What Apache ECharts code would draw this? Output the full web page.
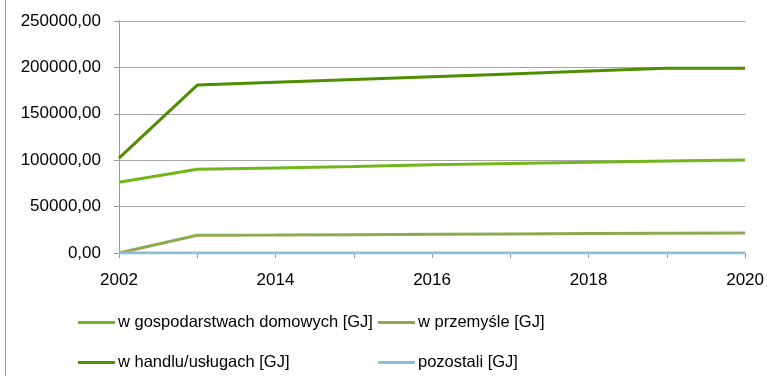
<!DOCTYPE html>
<html>
<head>
<meta charset="utf-8">
<script src="https://cdn.jsdelivr.net/npm/echarts@6/dist/echarts.min.js"></script>
<style>
  html, body { margin: 0; padding: 0; background: #fff; }
  #chart { width: 767px; height: 376px; }
</style>
</head>
<body>
<div id="chart"></div>
<script>
// Years on the horizontal axis
const years = ['2002', '2013', '2014', '2015', '2016', '2017', '2018', '2019', '2020'];

// Heat consumption per sector [GJ]
const households = [76200, 90200, 91700, 93300, 95000, 96500, 97800, 99200, 100200];
const industry   = [0, 19100, 19400, 19800, 20200, 20600, 21000, 21400, 21600];
const trade      = [102300, 181000, 184000, 187000, 190000, 193000, 196000, 199000, 199000];
const others     = [0, 0, 0, 0, 0, 0, 0, 0, 0];

const names = [
  'w gospodarstwach domowych [GJ]',
  'w przemyśle [GJ]',
  'w handlu/usługach [GJ]',
  'pozostali [GJ]'
];
const colors = ['#72B51C', '#8CAA50', '#4E8F00', '#8EBFD6'];

const font = 'Liberation Sans, Arial, sans-serif';

function fmt(v) {
  return v.toFixed(2).replace('.', ',');
}

function line(name, data, color) {
  return {
    name: name,
    type: 'line',
    data: data,
    symbol: 'none',
    lineStyle: { width: 3, color: color },
    itemStyle: { color: color },
    animation: false
  };
}

function legendColumn(items, left) {
  return {
    data: items,
    orient: 'vertical',
    left: left,
    top: 314,
    padding: 0,
    itemWidth: 37,
    itemHeight: 3,
    itemGap: 23,
    icon: 'rect',
    textStyle: { color: '#000', fontFamily: font, fontSize: 16.5, padding: [0, 0, 0, -2] }
  };
}

const chart = echarts.init(document.getElementById('chart'));
chart.setOption({
  animation: false,
  grid: { left: 119, right: 21, top: 21, bottom: 123 },
  xAxis: {
    type: 'category',
    data: years,
    boundaryGap: false,
    axisLine: { lineStyle: { color: '#999', width: 1 } },
    axisTick: { show: true, interval: 0, length: 5, lineStyle: { color: '#999' } },
    axisLabel: {
      interval: (i) => i % 2 === 0,
      color: '#000',
      fontFamily: font,
      fontSize: 17,
      margin: 19
    },
    splitLine: { show: false }
  },
  yAxis: {
    type: 'value',
    min: 0,
    max: 250000,
    interval: 50000,
    axisLine: { show: true, lineStyle: { color: '#999', width: 1 } },
    axisTick: { show: true, length: 5, lineStyle: { color: '#999' } },
    axisLabel: {
      formatter: fmt,
      color: '#000',
      fontFamily: font,
      fontSize: 17,
      margin: 18
    },
    splitLine: { lineStyle: { color: '#A6A6A6', width: 1 } }
  },
  legend: [
    legendColumn([names[0], names[2]], 78),
    legendColumn([names[1], names[3]], 378)
  ],
  graphic: [
    {
      type: 'line',
      shape: { x1: 5.5, y1: 0, x2: 5.5, y2: 376 },
      style: { stroke: '#999', lineWidth: 1 }
    }
  ],
  series: [
    line(names[0], households, colors[0]),
    line(names[1], industry, colors[1]),
    line(names[2], trade, colors[2]),
    line(names[3], others, colors[3])
  ]
});
</script>
</body>
</html>
